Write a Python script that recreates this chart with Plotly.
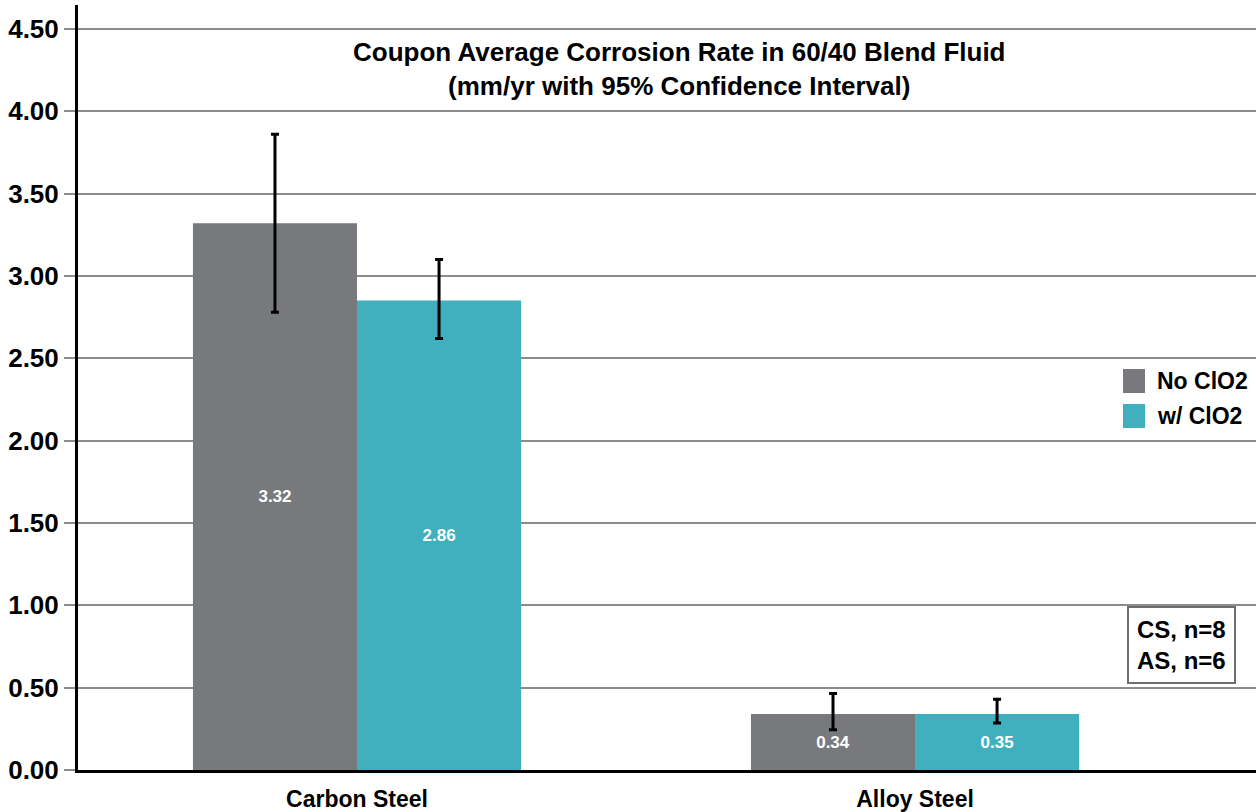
import plotly.graph_objects as go

categories = ["Carbon Steel", "Alloy Steel"]
series_names = ["No ClO2", "w/ ClO2"]
no_clo2 = [3.32, 0.34]
w_clo2 = [2.85, 0.34]
no_clo2_labels = ["3.32", "0.34"]
w_clo2_labels = ["2.86", "0.35"]
no_clo2_err_hi = [3.86, 0.465]
no_clo2_err_lo = [2.78, 0.245]
w_clo2_err_hi = [3.10, 0.43]
w_clo2_err_lo = [2.62, 0.285]
y_ticks = [0, 0.5, 1.0, 1.5, 2.0, 2.5, 3.0, 3.5, 4.0, 4.5]
colors = ["#78797d", "#40b0be"]

FONT = "Liberation Sans, Arial, Helvetica, sans-serif"
x_pos = list(range(len(categories)))

# plot area geometry in pixels (for paper-coordinate placement)
L, R, T, B = 78, 1256, 5, 770
PW, PH = R - L, B - T

def px(x):
    return (x - L) / PW

def py(y):
    return (B - y) / PH

def err(vals, hi, lo):
    return dict(type="data", symmetric=False,
                array=[h - v for h, v in zip(hi, vals)],
                arrayminus=[v - l for v, l in zip(vals, lo)],
                color="black", thickness=3, width=4)

fig = go.Figure()
for name, vals, labels, hi, lo, col in [
    (series_names[0], no_clo2, no_clo2_labels, no_clo2_err_hi, no_clo2_err_lo, colors[0]),
    (series_names[1], w_clo2, w_clo2_labels, w_clo2_err_hi, w_clo2_err_lo, colors[1]),
]:
    fig.add_trace(go.Bar(
        x=x_pos, y=vals, name=name, marker_color=col, marker_line_width=0,
        text=[f"<b>{t}</b>" for t in labels], textposition="inside",
        insidetextanchor="middle",
        textfont=dict(color="white", size=17, family=FONT),
        error_y=err(vals, hi, lo), showlegend=False,
    ))

annotations = [
    dict(text="<b>Coupon Average Corrosion Rate in 60/40 Blend Fluid<br>(mm/yr with 95% Confidence Interval)</b>",
         xref="paper", yref="paper", x=px(679), y=py(69),
         xanchor="center", yanchor="middle", showarrow=False,
         font=dict(size=26, family=FONT, color="black")),
    dict(text="<b>CS, n=8<br>AS, n=6</b>",
         xref="paper", yref="paper", x=px(1181.5), y=py(645),
         xanchor="center", yanchor="middle", showarrow=False,
         bordercolor="#6e6e6e", borderwidth=2, borderpad=8, bgcolor="white",
         font=dict(size=24, family=FONT, color="black")),
]
shapes = []
legend_y = [381, 416]
for name, col, yc in zip(series_names, colors, legend_y):
    shapes.append(dict(type="rect", xref="paper", yref="paper",
                       x0=px(1123), x1=px(1145), y0=py(yc + 12), y1=py(yc - 12),
                       fillcolor=col, line_width=0))
    annotations.append(dict(text=f"<b>{name}</b>", xref="paper", yref="paper",
                            x=px(1155), y=py(yc), xanchor="left", yanchor="middle",
                            showarrow=False,
                            font=dict(size=23, family=FONT, color="black")))

fig.update_layout(
    width=1256, height=812,
    margin=dict(l=L, r=1256 - R, t=T, b=812 - B),
    plot_bgcolor="white", paper_bgcolor="white",
    barmode="group", bargap=0.412, bargroupgap=0,
    font=dict(family=FONT, color="black"),
    showlegend=False,
    xaxis=dict(range=[-0.5, 1.611], tickvals=x_pos,
               ticktext=[f"<b>{c}</b>" for c in categories],
               showgrid=False, showline=True, linecolor="black", linewidth=3,
               ticks="", tickfont=dict(size=23, family=FONT, color="black"),
               zeroline=False, automargin=False, ticklabelstandoff=6),
    yaxis=dict(range=[0, 4.645], tickvals=y_ticks,
               ticktext=[f"<b>{v:.2f}</b>" for v in y_ticks],
               showgrid=True, gridcolor="#8c8c8c", gridwidth=2,
               showline=True, linecolor="black", linewidth=3,
               ticks="outside", ticklen=11, tickcolor="#8c8c8c", tickwidth=2,
               tickfont=dict(size=26, family=FONT, color="black"),
               zeroline=False, automargin=False),
    shapes=shapes,
    annotations=annotations,
)

fig.write_html("out.html", config={"displayModeBar": False},
               post_script="document.body.style.margin='0';document.body.style.overflow='hidden';")
